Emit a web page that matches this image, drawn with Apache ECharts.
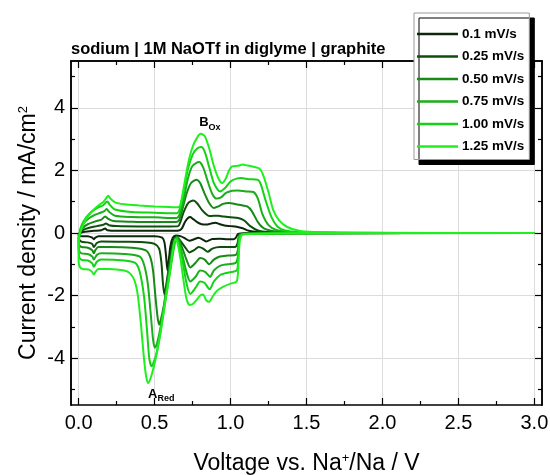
<!DOCTYPE html>
<html>
<head>
<meta charset="utf-8">
<script src="https://cdn.jsdelivr.net/npm/echarts@6/dist/echarts.min.js"></script>
<style>
  html, body { margin: 0; padding: 0; background: #fff; }
  #chart { width: 550px; height: 475px; }
</style>
</head>
<body>
<div id="chart"></div>
<script>
// Cyclic voltammograms of a graphite electrode, sodium | 1M NaOTf in diglyme.
// Each loop: cathodic sweep 3.0 V -> 0 V, then anodic sweep 0 V -> 3.0 V.
const scanRates = ['0.1 mV/s', '0.25 mV/s', '0.50 mV/s', '0.75 mV/s', '1.00 mV/s', '1.25 mV/s'];
const rateColors = ['#0b280b', '#0e4f0e', '#178a17', '#1aae1a', '#14d214', '#1ef01e'];

const voltageTicks = [0, 0.5, 1.0, 1.5, 2.0, 2.5, 3.0];
const voltageMinorTicks = [0.25, 0.75, 1.25, 1.75, 2.25, 2.75];
const currentTicks = [-4, -2, 0, 2, 4];
const currentMinorTicks = [-5, -3, -1, 1, 3, 5];

// [voltage V, current density mA/cm2]
const cv_0_10 = [
  [3.0,0],[1.5,-0.005],[1.1,-0.01],[1.05,-0.03],[1.035,-0.15],[1.02,-0.2],[0.98,-0.2],[0.93,-0.18],
  [0.88,-0.19],[0.84,-0.27],[0.82,-0.22],[0.79,-0.15],[0.76,-0.2],[0.73,-0.25],[0.7,-0.17],[0.67,-0.1],
  [0.64,-0.08],[0.62,-0.15],[0.605,-0.4],[0.595,-0.8],[0.585,-1.2],[0.575,-0.7],[0.565,-0.3],[0.55,-0.15],
  [0.5,-0.1],[0.4,-0.1],[0.2,-0.1],[0.13,-0.1],[0.11,-0.15],[0.1,-0.2],[0.09,-0.15],[0.06,-0.1],
  [0.02,-0.1],[0.0,-0.08],
  [0.0,-0.05],[0.01,0.0],[0.04,0.04],[0.1,0.07],[0.15,0.09],[0.175,0.14],[0.19,0.09],[0.25,0.07],
  [0.4,0.07],[0.6,0.07],[0.66,0.08],[0.68,0.15],[0.7,0.35],[0.72,0.48],[0.735,0.51],[0.75,0.46],
  [0.78,0.35],[0.81,0.28],[0.84,0.27],[0.87,0.3],[0.9,0.33],[0.93,0.28],[0.96,0.24],[1.0,0.22],
  [1.04,0.2],[1.08,0.15],[1.12,0.07],[1.18,0.03],[1.3,0.01],[3.0,0]
];
const cv_0_25 = [
  [3.0,0],[1.5,-0.005],[1.1,-0.015],[1.06,-0.05],[1.045,-0.35],[1.03,-0.45],[0.98,-0.45],[0.93,-0.45],
  [0.88,-0.5],[0.85,-0.6],[0.82,-0.5],[0.79,-0.45],[0.76,-0.55],[0.73,-0.62],[0.7,-0.45],[0.67,-0.25],
  [0.645,-0.1],[0.62,-0.3],[0.6,-0.9],[0.58,-1.55],[0.565,-1.97],[0.555,-1.6],[0.545,-0.95],[0.53,-0.5],
  [0.5,-0.35],[0.45,-0.3],[0.3,-0.28],[0.15,-0.27],[0.12,-0.32],[0.1,-0.45],[0.09,-0.35],[0.06,-0.3],
  [0.02,-0.28],[0.005,-0.22],
  [0.0,-0.15],[0.01,0.0],[0.03,0.1],[0.07,0.17],[0.12,0.22],[0.16,0.26],[0.18,0.3],[0.2,0.25],
  [0.25,0.22],[0.4,0.21],[0.6,0.21],[0.655,0.22],[0.67,0.35],[0.69,0.65],[0.72,0.95],[0.755,1.04],
  [0.78,0.95],[0.81,0.75],[0.84,0.6],[0.86,0.54],[0.89,0.55],[0.92,0.55],[0.95,0.53],[1.0,0.5],
  [1.05,0.48],[1.09,0.4],[1.13,0.22],[1.18,0.08],[1.25,0.03],[1.4,0.01],[3.0,0]
];
const cv_0_50 = [
  [3.0,0],[1.5,-0.005],[1.1,-0.02],[1.06,-0.06],[1.05,-0.5],[1.035,-0.7],[0.98,-0.72],[0.93,-0.75],
  [0.89,-0.85],[0.86,-1.0],[0.83,-0.85],[0.8,-0.8],[0.77,-0.95],[0.735,-1.1],[0.71,-0.85],[0.68,-0.45],
  [0.65,-0.12],[0.63,-0.25],[0.6,-1.0],[0.58,-1.7],[0.56,-2.35],[0.54,-2.8],[0.53,-2.93],[0.52,-2.7],
  [0.505,-2.0],[0.49,-1.2],[0.47,-0.75],[0.44,-0.55],[0.35,-0.47],[0.2,-0.45],[0.13,-0.45],[0.11,-0.55],
  [0.1,-0.65],[0.09,-0.55],[0.06,-0.47],[0.02,-0.45],[0.005,-0.4],
  [0.0,-0.25],[0.008,0.0],[0.025,0.15],[0.06,0.28],[0.11,0.37],[0.15,0.43],[0.175,0.53],[0.195,0.45],
  [0.23,0.38],[0.35,0.36],[0.5,0.35],[0.64,0.35],[0.66,0.4],[0.68,0.7],[0.71,1.25],[0.74,1.6],
  [0.777,1.7],[0.8,1.6],[0.83,1.25],[0.86,0.95],[0.89,0.8],[0.92,0.85],[0.95,0.93],[0.99,0.96],
  [1.03,0.93],[1.08,0.88],[1.11,0.85],[1.14,0.7],[1.18,0.35],[1.22,0.15],[1.3,0.05],[1.45,0.01],[3.0,0]
];
const cv_0_75 = [
  [3.0,0],[1.5,-0.01],[1.1,-0.02],[1.06,-0.08],[1.05,-0.7],[1.035,-0.95],[0.98,-1.0],[0.93,-1.05],
  [0.89,-1.2],[0.865,-1.4],[0.835,-1.25],[0.8,-1.2],[0.77,-1.4],[0.735,-1.55],[0.71,-1.25],[0.68,-0.65],
  [0.65,-0.15],[0.63,-0.35],[0.6,-1.2],[0.57,-2.1],[0.54,-3.0],[0.515,-3.55],[0.502,-3.67],[0.49,-3.4],
  [0.475,-2.6],[0.455,-1.6],[0.43,-1.0],[0.4,-0.75],[0.3,-0.67],[0.15,-0.65],[0.12,-0.7],[0.1,-0.85],
  [0.09,-0.75],[0.06,-0.67],[0.02,-0.65],[0.005,-0.58],
  [0.0,-0.35],[0.007,0.0],[0.02,0.2],[0.05,0.4],[0.1,0.56],[0.14,0.64],[0.17,0.7],[0.185,0.77],
  [0.2,0.68],[0.24,0.55],[0.35,0.51],[0.5,0.5],[0.645,0.48],[0.665,0.6],[0.69,1.05],[0.72,1.75],
  [0.75,2.15],[0.793,2.27],[0.82,2.1],[0.85,1.65],[0.88,1.25],[0.91,1.1],[0.94,1.15],[0.97,1.28],
  [1.01,1.35],[1.05,1.36],[1.1,1.33],[1.15,1.31],[1.18,1.1],[1.21,0.6],[1.25,0.25],[1.3,0.1],
  [1.4,0.03],[1.6,0.01],[3.0,0]
];
const cv_1_00 = [
  [3.0,0],[1.5,-0.01],[1.1,-0.03],[1.06,-0.1],[1.05,-0.9],[1.04,-1.2],[0.98,-1.27],[0.93,-1.35],
  [0.89,-1.55],[0.862,-1.8],[0.83,-1.6],[0.8,-1.55],[0.77,-1.75],[0.735,-1.95],[0.71,-1.6],[0.68,-0.8],
  [0.645,-0.15],[0.63,-0.4],[0.6,-1.3],[0.57,-2.2],[0.54,-3.15],[0.51,-3.9],[0.48,-4.26],[0.465,-4.0],
  [0.45,-3.1],[0.43,-2.0],[0.4,-1.2],[0.37,-0.95],[0.3,-0.88],[0.15,-0.85],[0.12,-0.92],[0.1,-1.08],
  [0.09,-0.97],[0.06,-0.88],[0.02,-0.86],[0.005,-0.78],
  [0.0,-0.45],[0.006,0.0],[0.02,0.25],[0.05,0.5],[0.09,0.7],[0.13,0.82],[0.16,0.88],[0.18,0.98],
  [0.19,1.01],[0.205,0.9],[0.24,0.75],[0.35,0.67],[0.5,0.65],[0.645,0.63],[0.665,0.75],[0.69,1.3],
  [0.72,2.05],[0.75,2.5],[0.78,2.7],[0.807,2.75],[0.83,2.6],[0.86,2.1],[0.89,1.6],[0.93,1.33],
  [0.96,1.42],[1.0,1.65],[1.04,1.74],[1.07,1.76],[1.12,1.72],[1.18,1.7],[1.2,1.55],[1.23,1.05],
  [1.27,0.5],[1.31,0.2],[1.36,0.08],[1.45,0.03],[1.7,0.01],[3.0,0]
];
const cv_1_25 = [
  [3.0,0],[2.0,0],[1.5,-0.01],[1.2,-0.02],[1.08,-0.05],[1.06,-0.3],[1.05,-1.2],[1.04,-1.55],
  [1.0,-1.62],[0.95,-1.72],[0.91,-1.85],[0.88,-2.05],[0.86,-2.2],[0.84,-2.15],[0.82,-1.97],[0.8,-2.0],
  [0.78,-2.12],[0.75,-2.28],[0.73,-2.3],[0.71,-2.1],[0.69,-1.5],[0.67,-0.8],[0.65,-0.3],[0.635,-0.2],
  [0.6,-1.3],[0.57,-2.2],[0.54,-3.15],[0.51,-3.95],[0.48,-4.55],[0.458,-4.8],[0.445,-4.6],[0.43,-4.0],
  [0.41,-2.9],[0.39,-2.0],[0.37,-1.55],[0.34,-1.3],[0.3,-1.2],[0.2,-1.15],[0.13,-1.15],[0.11,-1.25],
  [0.1,-1.33],[0.09,-1.25],[0.07,-1.17],[0.03,-1.15],[0.01,-1.1],[0.0,-0.9],
  [0.0,-0.5],[0.005,-0.1],[0.02,0.15],[0.05,0.45],[0.09,0.7],[0.13,0.88],[0.16,0.98],[0.18,1.1],
  [0.195,1.19],[0.21,1.1],[0.24,0.98],[0.3,0.92],[0.4,0.88],[0.5,0.85],[0.6,0.83],[0.655,0.82],
  [0.67,0.9],[0.69,1.4],[0.72,2.2],[0.75,2.75],[0.78,3.05],[0.805,3.17],[0.83,3.1],[0.86,2.7],
  [0.89,2.15],[0.92,1.75],[0.945,1.6],[0.97,1.75],[0.99,2.0],[1.01,2.13],[1.05,2.15],[1.08,2.19],
  [1.1,2.17],[1.15,2.12],[1.19,2.06],[1.215,1.85],[1.25,1.3],[1.28,0.75],[1.32,0.4],[1.37,0.2],
  [1.45,0.07],[1.55,0.03],[1.8,0.01],[3.0,0]
];
const cvCurves = [cv_0_10, cv_0_25, cv_0_50, cv_0_75, cv_1_00, cv_1_25];

// Peak annotations: anodic peak B (1.25 mV/s) and cathodic peak A (1.25 mV/s)
const peakB = [0.805, 3.17];
const peakA = [0.458, -4.8];

const FONT = 'Arial, "Liberation Sans", sans-serif';
const frameLine = { show: true, onZero: false, lineStyle: { color: '#000', width: 1.5 } };

function xAx(position, ticks, len, withLabels, withGrid) {
  return {
    type: 'value', position: position, min: -0.05, max: 3.05,
    axisLine: withLabels || withGrid ? frameLine : { show: position === 'top', onZero: false, lineStyle: { color: '#000', width: 1.5 } },
    axisTick: { show: true, inside: true, length: len, customValues: ticks, lineStyle: { color: '#000', width: 1.2 } },
    axisLabel: withLabels ? {
      show: true, customValues: ticks, margin: 8, color: '#000', fontSize: 20, fontFamily: FONT,
      formatter: v => v.toFixed(1)
    } : { show: false },
    splitLine: withGrid ? { show: true, lineStyle: { color: '#dcdcdc', width: 1 } } : { show: false },
    name: withLabels ? '{t|Voltage vs. Na}{s|+}{t|/Na / V}' : '',
    nameLocation: 'middle', nameGap: 47,
    nameTextStyle: {
      rich: {
        t: { fontSize: 23, fontFamily: FONT, color: '#000' },
        s: { fontSize: 13, fontFamily: FONT, color: '#000', verticalAlign: 'top', padding: [0, 0, 10, 0] }
      }
    }
  };
}
function yAx(position, ticks, len, withLabels, withGrid) {
  return {
    type: 'value', position: position, min: -5.5, max: 5.5,
    axisLine: frameLine,
    axisTick: { show: true, inside: true, length: len, customValues: ticks, lineStyle: { color: '#000', width: 1.2 } },
    axisLabel: withLabels ? {
      show: true, customValues: ticks, margin: 6, color: '#000', fontSize: 20, fontFamily: FONT
    } : { show: false },
    splitLine: withGrid ? { show: true, lineStyle: { color: '#dcdcdc', width: 1 } } : { show: false },
    name: withLabels ? '{t|Current density / mA/cm}{s|2}' : '',
    nameLocation: 'middle', nameGap: 31, nameRotate: 90, nameMoveOverlap: false,
    nameTextStyle: {
      rich: {
        t: { fontSize: 23, fontFamily: FONT, color: '#000' },
        s: { fontSize: 13, fontFamily: FONT, color: '#000', padding: [0, 0, 10, 0] }
      }
    }
  };
}

const series = scanRates.map((rate, i) => ({
  name: rate,
  type: 'line',
  data: cvCurves[i],
  xAxisIndex: 0, yAxisIndex: 0,
  showSymbol: false,
  smooth: 0.25,
  lineStyle: { color: rateColors[i], width: 2 },
  itemStyle: { color: rateColors[i] },
  z: 3 + i,
  animation: false
}));

series[5].markPoint = {
  symbol: 'circle', symbolSize: 0, animation: false,
  label: {
    show: true,
    rich: {
      m: { fontSize: 13, fontWeight: 'bold', fontFamily: FONT, color: '#000' },
      s: { fontSize: 9, fontWeight: 'bold', fontFamily: FONT, color: '#000', padding: [9, 0, 0, 0] }
    }
  },
  data: [
    { coord: peakB, label: { formatter: '{m|B}{s|Ox}', position: 'top', distance: 2, offset: [9, 0] } },
    { coord: peakA, label: { formatter: '{m|A}{s|Red}', position: 'bottom', distance: 2, offset: [13, 0] } }
  ]
};

const chart = echarts.init(document.getElementById('chart'), null, { renderer: 'canvas' });
chart.setOption({
  animation: false,
  backgroundColor: '#fff',
  title: {
    text: 'sodium | 1M NaOTf in diglyme | graphite',
    left: 66, top: 36,
    textStyle: { fontSize: 16.5, fontWeight: 'bold', fontFamily: FONT, color: '#000' }
  },
  legend: {
    data: scanRates,
    orient: 'vertical',
    left: 414, top: 13,
    padding: [14, 5, 6, 3],
    itemGap: 8.5,
    itemWidth: 41, itemHeight: 2.5,
    icon: 'rect',
    backgroundColor: '#fff',
    borderColor: '#999', borderWidth: 1,
    shadowColor: '#000', shadowBlur: 0, shadowOffsetX: 5, shadowOffsetY: 5,
    textStyle: { fontSize: 13.5, fontWeight: 'bold', fontFamily: FONT, color: '#000', padding: [0, 0, 0, -1] }
  },
  grid: { left: 71, right: 8, top: 61, bottom: 70, containLabel: false, outerBoundsMode: 'none' },
  xAxis: [
    xAx('bottom', voltageTicks, 7, true, true),
    xAx('bottom', voltageMinorTicks, 4, false, false),
    xAx('top', voltageTicks, 7, false, false),
    xAx('top', voltageMinorTicks, 4, false, false)
  ],
  yAxis: [
    yAx('left', currentTicks, 7, true, true),
    yAx('left', currentMinorTicks, 4, false, false),
    yAx('right', currentTicks, 7, false, false),
    yAx('right', currentMinorTicks, 4, false, false)
  ],
  series: series
});
</script>
</body>
</html>
